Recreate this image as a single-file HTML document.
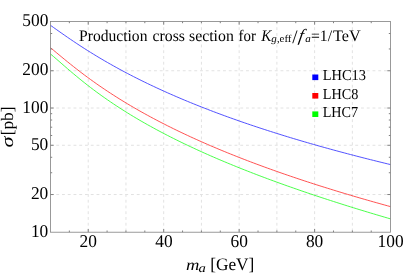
<!DOCTYPE html>
<html><head><meta charset="utf-8"><title>Production cross section</title>
<style>
html,body{margin:0;padding:0;background:#fff;}
svg{display:block;font-family:"Liberation Serif",serif;will-change:transform;}
text{fill:#000;text-rendering:geometricPrecision;}
</style></head>
<body>
<svg width="415" height="274" viewBox="0 0 415 274">
<rect width="415" height="274" fill="#fff"/>
<line x1="88.22" x2="88.22" y1="21.5" y2="232.2" stroke="#e2e2e2" stroke-width="1" stroke-dasharray="2.9,2.85"/>
<line x1="125.95" x2="125.95" y1="21.5" y2="232.2" stroke="#e2e2e2" stroke-width="1" stroke-dasharray="2.9,2.85"/>
<line x1="163.69" x2="163.69" y1="21.5" y2="232.2" stroke="#e2e2e2" stroke-width="1" stroke-dasharray="2.9,2.85"/>
<line x1="201.42" x2="201.42" y1="21.5" y2="232.2" stroke="#e2e2e2" stroke-width="1" stroke-dasharray="2.9,2.85"/>
<line x1="239.15" x2="239.15" y1="21.5" y2="232.2" stroke="#e2e2e2" stroke-width="1" stroke-dasharray="2.9,2.85"/>
<line x1="276.89" x2="276.89" y1="21.5" y2="232.2" stroke="#e2e2e2" stroke-width="1" stroke-dasharray="2.9,2.85"/>
<line x1="314.62" x2="314.62" y1="21.5" y2="232.2" stroke="#e2e2e2" stroke-width="1" stroke-dasharray="2.9,2.85"/>
<line x1="352.36" x2="352.36" y1="21.5" y2="232.2" stroke="#e2e2e2" stroke-width="1" stroke-dasharray="2.9,2.85"/>
<line x1="50.5" x2="390.5" y1="194.54" y2="194.54" stroke="#e2e2e2" stroke-width="1" stroke-dasharray="2.9,2.85"/>
<line x1="50.5" x2="390.5" y1="145.28" y2="145.28" stroke="#e2e2e2" stroke-width="1" stroke-dasharray="2.9,2.85"/>
<line x1="50.5" x2="390.5" y1="108.02" y2="108.02" stroke="#e2e2e2" stroke-width="1" stroke-dasharray="2.9,2.85"/>
<line x1="50.5" x2="390.5" y1="70.76" y2="70.76" stroke="#e2e2e2" stroke-width="1" stroke-dasharray="2.9,2.85"/>
<path d="M50.50,25.34 L53.36,27.36 L56.21,29.39 L59.07,31.40 L61.93,33.41 L64.79,35.40 L67.64,37.38 L70.50,39.33 L73.36,41.26 L76.21,43.17 L79.07,45.05 L81.93,46.91 L84.79,48.75 L87.64,50.56 L90.50,52.35 L93.36,54.11 L96.21,55.85 L99.07,57.57 L101.93,59.26 L104.79,60.94 L107.64,62.59 L110.50,64.21 L113.36,65.82 L116.21,67.40 L119.07,68.97 L121.93,70.51 L124.79,72.04 L127.64,73.54 L130.50,75.03 L133.36,76.50 L136.21,77.95 L139.07,79.38 L141.93,80.80 L144.79,82.20 L147.64,83.58 L150.50,84.95 L153.36,86.30 L156.21,87.64 L159.07,88.96 L161.93,90.26 L164.79,91.56 L167.64,92.83 L170.50,94.10 L173.36,95.35 L176.21,96.58 L179.07,97.81 L181.93,99.02 L184.79,100.22 L187.64,101.41 L190.50,102.58 L193.36,103.74 L196.21,104.90 L199.07,106.04 L201.93,107.17 L204.79,108.28 L207.64,109.39 L210.50,110.49 L213.36,111.58 L216.21,112.66 L219.07,113.72 L221.93,114.78 L224.79,115.83 L227.64,116.87 L230.50,117.90 L233.36,118.92 L236.21,119.93 L239.07,120.93 L241.93,121.93 L244.79,122.91 L247.64,123.89 L250.50,124.86 L253.36,125.82 L256.21,126.78 L259.07,127.72 L261.93,128.66 L264.79,129.59 L267.64,130.52 L270.50,131.43 L273.36,132.34 L276.21,133.25 L279.07,134.14 L281.93,135.03 L284.79,135.91 L287.64,136.79 L290.50,137.65 L293.36,138.52 L296.21,139.37 L299.07,140.22 L301.93,141.07 L304.79,141.90 L307.64,142.73 L310.50,143.56 L313.36,144.38 L316.21,145.19 L319.07,146.00 L321.93,146.80 L324.79,147.60 L327.64,148.39 L330.50,149.18 L333.36,149.96 L336.21,150.73 L339.07,151.51 L341.93,152.27 L344.79,153.03 L347.64,153.79 L350.50,154.54 L353.36,155.28 L356.21,156.02 L359.07,156.76 L361.93,157.49 L364.79,158.22 L367.64,158.94 L370.50,159.66 L373.36,160.37 L376.21,161.08 L379.07,161.79 L381.93,162.49 L384.79,163.19 L387.64,163.88 L390.50,164.57" fill="none" stroke="#4040ff" stroke-width="0.9"/>
<path d="M50.50,47.76 L53.36,50.11 L56.21,52.48 L59.07,54.86 L61.93,57.22 L64.79,59.58 L67.64,61.90 L70.50,64.21 L73.36,66.48 L76.21,68.73 L79.07,70.94 L81.93,73.13 L84.79,75.28 L87.64,77.39 L90.50,79.48 L93.36,81.53 L96.21,83.56 L99.07,85.55 L101.93,87.51 L104.79,89.44 L107.64,91.35 L110.50,93.22 L113.36,95.07 L116.21,96.89 L119.07,98.69 L121.93,100.46 L124.79,102.20 L127.64,103.93 L130.50,105.62 L133.36,107.30 L136.21,108.95 L139.07,110.58 L141.93,112.19 L144.79,113.78 L147.64,115.35 L150.50,116.90 L153.36,118.43 L156.21,119.94 L159.07,121.44 L161.93,122.91 L164.79,124.37 L167.64,125.82 L170.50,127.24 L173.36,128.65 L176.21,130.05 L179.07,131.43 L181.93,132.79 L184.79,134.14 L187.64,135.48 L190.50,136.80 L193.36,138.11 L196.21,139.40 L199.07,140.68 L201.93,141.95 L204.79,143.21 L207.64,144.46 L210.50,145.69 L213.36,146.91 L216.21,148.12 L219.07,149.32 L221.93,150.50 L224.79,151.68 L227.64,152.85 L230.50,154.00 L233.36,155.15 L236.21,156.28 L239.07,157.41 L241.93,158.52 L244.79,159.63 L247.64,160.73 L250.50,161.82 L253.36,162.90 L256.21,163.97 L259.07,165.03 L261.93,166.08 L264.79,167.13 L267.64,168.17 L270.50,169.20 L273.36,170.22 L276.21,171.23 L279.07,172.24 L281.93,173.24 L284.79,174.23 L287.64,175.21 L290.50,176.19 L293.36,177.16 L296.21,178.12 L299.07,179.08 L301.93,180.03 L304.79,180.97 L307.64,181.90 L310.50,182.83 L313.36,183.76 L316.21,184.68 L319.07,185.59 L321.93,186.49 L324.79,187.39 L327.64,188.28 L330.50,189.17 L333.36,190.05 L336.21,190.93 L339.07,191.80 L341.93,192.67 L344.79,193.53 L347.64,194.38 L350.50,195.23 L353.36,196.08 L356.21,196.92 L359.07,197.75 L361.93,198.58 L364.79,199.40 L367.64,200.22 L370.50,201.04 L373.36,201.85 L376.21,202.65 L379.07,203.45 L381.93,204.25 L384.79,205.04 L387.64,205.83 L390.50,206.61" fill="none" stroke="#ff4040" stroke-width="0.9"/>
<path d="M50.50,54.03 L53.36,56.42 L56.21,58.87 L59.07,61.35 L61.93,63.85 L64.79,66.33 L67.64,68.81 L70.50,71.26 L73.36,73.68 L76.21,76.06 L79.07,78.42 L81.93,80.73 L84.79,83.01 L87.64,85.25 L90.50,87.46 L93.36,89.62 L96.21,91.75 L99.07,93.85 L101.93,95.91 L104.79,97.93 L107.64,99.92 L110.50,101.88 L113.36,103.81 L116.21,105.70 L119.07,107.57 L121.93,109.40 L124.79,111.21 L127.64,112.99 L130.50,114.75 L133.36,116.48 L136.21,118.18 L139.07,119.86 L141.93,121.52 L144.79,123.15 L147.64,124.76 L150.50,126.35 L153.36,127.92 L156.21,129.47 L159.07,131.00 L161.93,132.52 L164.79,134.01 L167.64,135.48 L170.50,136.94 L173.36,138.38 L176.21,139.81 L179.07,141.22 L181.93,142.61 L184.79,143.99 L187.64,145.35 L190.50,146.70 L193.36,148.03 L196.21,149.35 L199.07,150.66 L201.93,151.96 L204.79,153.24 L207.64,154.51 L210.50,155.77 L213.36,157.01 L216.21,158.25 L219.07,159.47 L221.93,160.68 L224.79,161.88 L227.64,163.07 L230.50,164.25 L233.36,165.43 L236.21,166.59 L239.07,167.74 L241.93,168.88 L244.79,170.01 L247.64,171.14 L250.50,172.25 L253.36,173.36 L256.21,174.46 L259.07,175.55 L261.93,176.63 L264.79,177.70 L267.64,178.77 L270.50,179.83 L273.36,180.88 L276.21,181.92 L279.07,182.96 L281.93,183.98 L284.79,185.01 L287.64,186.02 L290.50,187.03 L293.36,188.03 L296.21,189.03 L299.07,190.02 L301.93,191.00 L304.79,191.98 L307.64,192.95 L310.50,193.91 L313.36,194.87 L316.21,195.83 L319.07,196.77 L321.93,197.72 L324.79,198.65 L327.64,199.58 L330.50,200.51 L333.36,201.43 L336.21,202.35 L339.07,203.26 L341.93,204.16 L344.79,205.07 L347.64,205.96 L350.50,206.85 L353.36,207.74 L356.21,208.62 L359.07,209.50 L361.93,210.37 L364.79,211.24 L367.64,212.11 L370.50,212.97 L373.36,213.82 L376.21,214.68 L379.07,215.52 L381.93,216.37 L384.79,217.21 L387.64,218.04 L390.50,218.88" fill="none" stroke="#38ff38" stroke-width="0.9"/>
<rect x="50.5" y="21.5" width="340.0" height="210.7" fill="none" stroke="#808080" stroke-width="0.8"/>
<line x1="69.35" x2="69.35" y1="232.2" y2="230.5" stroke="#808080" stroke-width="1"/>
<line x1="69.35" x2="69.35" y1="21.5" y2="23.2" stroke="#808080" stroke-width="1"/>
<line x1="88.22" x2="88.22" y1="232.2" y2="229.0" stroke="#808080" stroke-width="1"/>
<line x1="88.22" x2="88.22" y1="21.5" y2="24.7" stroke="#808080" stroke-width="1"/>
<line x1="107.08" x2="107.08" y1="232.2" y2="230.5" stroke="#808080" stroke-width="1"/>
<line x1="107.08" x2="107.08" y1="21.5" y2="23.2" stroke="#808080" stroke-width="1"/>
<line x1="125.95" x2="125.95" y1="232.2" y2="230.5" stroke="#808080" stroke-width="1"/>
<line x1="125.95" x2="125.95" y1="21.5" y2="23.2" stroke="#808080" stroke-width="1"/>
<line x1="144.82" x2="144.82" y1="232.2" y2="230.5" stroke="#808080" stroke-width="1"/>
<line x1="144.82" x2="144.82" y1="21.5" y2="23.2" stroke="#808080" stroke-width="1"/>
<line x1="163.69" x2="163.69" y1="232.2" y2="229.0" stroke="#808080" stroke-width="1"/>
<line x1="163.69" x2="163.69" y1="21.5" y2="24.7" stroke="#808080" stroke-width="1"/>
<line x1="182.55" x2="182.55" y1="232.2" y2="230.5" stroke="#808080" stroke-width="1"/>
<line x1="182.55" x2="182.55" y1="21.5" y2="23.2" stroke="#808080" stroke-width="1"/>
<line x1="201.42" x2="201.42" y1="232.2" y2="230.5" stroke="#808080" stroke-width="1"/>
<line x1="201.42" x2="201.42" y1="21.5" y2="23.2" stroke="#808080" stroke-width="1"/>
<line x1="220.29" x2="220.29" y1="232.2" y2="230.5" stroke="#808080" stroke-width="1"/>
<line x1="220.29" x2="220.29" y1="21.5" y2="23.2" stroke="#808080" stroke-width="1"/>
<line x1="239.15" x2="239.15" y1="232.2" y2="229.0" stroke="#808080" stroke-width="1"/>
<line x1="239.15" x2="239.15" y1="21.5" y2="24.7" stroke="#808080" stroke-width="1"/>
<line x1="258.02" x2="258.02" y1="232.2" y2="230.5" stroke="#808080" stroke-width="1"/>
<line x1="258.02" x2="258.02" y1="21.5" y2="23.2" stroke="#808080" stroke-width="1"/>
<line x1="276.89" x2="276.89" y1="232.2" y2="230.5" stroke="#808080" stroke-width="1"/>
<line x1="276.89" x2="276.89" y1="21.5" y2="23.2" stroke="#808080" stroke-width="1"/>
<line x1="295.76" x2="295.76" y1="232.2" y2="230.5" stroke="#808080" stroke-width="1"/>
<line x1="295.76" x2="295.76" y1="21.5" y2="23.2" stroke="#808080" stroke-width="1"/>
<line x1="314.62" x2="314.62" y1="232.2" y2="229.0" stroke="#808080" stroke-width="1"/>
<line x1="314.62" x2="314.62" y1="21.5" y2="24.7" stroke="#808080" stroke-width="1"/>
<line x1="333.49" x2="333.49" y1="232.2" y2="230.5" stroke="#808080" stroke-width="1"/>
<line x1="333.49" x2="333.49" y1="21.5" y2="23.2" stroke="#808080" stroke-width="1"/>
<line x1="352.36" x2="352.36" y1="232.2" y2="230.5" stroke="#808080" stroke-width="1"/>
<line x1="352.36" x2="352.36" y1="21.5" y2="23.2" stroke="#808080" stroke-width="1"/>
<line x1="371.23" x2="371.23" y1="232.2" y2="230.5" stroke="#808080" stroke-width="1"/>
<line x1="371.23" x2="371.23" y1="21.5" y2="23.2" stroke="#808080" stroke-width="1"/>
<line x1="50.5" x2="53.7" y1="194.54" y2="194.54" stroke="#808080" stroke-width="1"/>
<line x1="390.5" x2="387.3" y1="194.54" y2="194.54" stroke="#808080" stroke-width="1"/>
<line x1="50.5" x2="52.2" y1="172.74" y2="172.74" stroke="#808080" stroke-width="1"/>
<line x1="390.5" x2="388.8" y1="172.74" y2="172.74" stroke="#808080" stroke-width="1"/>
<line x1="50.5" x2="52.2" y1="157.28" y2="157.28" stroke="#808080" stroke-width="1"/>
<line x1="390.5" x2="388.8" y1="157.28" y2="157.28" stroke="#808080" stroke-width="1"/>
<line x1="50.5" x2="53.7" y1="145.28" y2="145.28" stroke="#808080" stroke-width="1"/>
<line x1="390.5" x2="387.3" y1="145.28" y2="145.28" stroke="#808080" stroke-width="1"/>
<line x1="50.5" x2="52.2" y1="135.48" y2="135.48" stroke="#808080" stroke-width="1"/>
<line x1="390.5" x2="388.8" y1="135.48" y2="135.48" stroke="#808080" stroke-width="1"/>
<line x1="50.5" x2="52.2" y1="127.19" y2="127.19" stroke="#808080" stroke-width="1"/>
<line x1="390.5" x2="388.8" y1="127.19" y2="127.19" stroke="#808080" stroke-width="1"/>
<line x1="50.5" x2="52.2" y1="120.01" y2="120.01" stroke="#808080" stroke-width="1"/>
<line x1="390.5" x2="388.8" y1="120.01" y2="120.01" stroke="#808080" stroke-width="1"/>
<line x1="50.5" x2="52.2" y1="113.68" y2="113.68" stroke="#808080" stroke-width="1"/>
<line x1="390.5" x2="388.8" y1="113.68" y2="113.68" stroke="#808080" stroke-width="1"/>
<line x1="50.5" x2="53.7" y1="108.02" y2="108.02" stroke="#808080" stroke-width="1"/>
<line x1="390.5" x2="387.3" y1="108.02" y2="108.02" stroke="#808080" stroke-width="1"/>
<line x1="50.5" x2="53.7" y1="70.76" y2="70.76" stroke="#808080" stroke-width="1"/>
<line x1="390.5" x2="387.3" y1="70.76" y2="70.76" stroke="#808080" stroke-width="1"/>
<line x1="50.5" x2="52.2" y1="48.96" y2="48.96" stroke="#808080" stroke-width="1"/>
<line x1="390.5" x2="388.8" y1="48.96" y2="48.96" stroke="#808080" stroke-width="1"/>
<line x1="50.5" x2="52.2" y1="33.50" y2="33.50" stroke="#808080" stroke-width="1"/>
<line x1="390.5" x2="388.8" y1="33.50" y2="33.50" stroke="#808080" stroke-width="1"/>
<text x="79.53" y="247.30" font-size="18" textLength="17.37" lengthAdjust="spacingAndGlyphs">20</text>
<text x="155.24" y="247.30" font-size="18" textLength="17.37" lengthAdjust="spacingAndGlyphs">40</text>
<text x="230.47" y="247.30" font-size="18" textLength="17.37" lengthAdjust="spacingAndGlyphs">60</text>
<text x="305.94" y="247.30" font-size="18" textLength="17.37" lengthAdjust="spacingAndGlyphs">80</text>
<text x="377.61" y="247.30" font-size="18" textLength="26.05" lengthAdjust="spacingAndGlyphs">100</text>
<text x="30.95" y="236.50" font-size="18" textLength="17.37" lengthAdjust="spacingAndGlyphs">10</text>
<text x="30.95" y="199.24" font-size="18" textLength="17.37" lengthAdjust="spacingAndGlyphs">20</text>
<text x="30.95" y="149.98" font-size="18" textLength="17.37" lengthAdjust="spacingAndGlyphs">50</text>
<text x="22.27" y="112.72" font-size="18" textLength="26.05" lengthAdjust="spacingAndGlyphs">100</text>
<text x="22.27" y="75.46" font-size="18" textLength="26.05" lengthAdjust="spacingAndGlyphs">200</text>
<text x="22.27" y="26.20" font-size="18" textLength="26.05" lengthAdjust="spacingAndGlyphs">500</text>
<text x="79.02" y="40.60" font-size="16.1" textLength="68.43" lengthAdjust="spacingAndGlyphs">Production</text>
<text x="152.51" y="40.60" font-size="16.1" textLength="32.47" lengthAdjust="spacingAndGlyphs">cross</text>
<text x="189.06" y="40.60" font-size="16.1" textLength="44.78" lengthAdjust="spacingAndGlyphs">section</text>
<text x="238.54" y="40.60" font-size="16.1" textLength="17.38" lengthAdjust="spacingAndGlyphs">for</text>
<text x="261.34" y="40.60" font-size="16.1" font-style="italic" textLength="10.14" lengthAdjust="spacingAndGlyphs">K</text>
<text x="271.30" y="42.45" font-size="10.4" font-style="italic" textLength="5.47" lengthAdjust="spacingAndGlyphs">g</text>
<text x="276.90" y="42.45" font-size="10.4">,</text>
<text x="279.57" y="42.45" font-size="10.4" textLength="11.94" lengthAdjust="spacingAndGlyphs">eff</text>
<text x="292.17" y="42.60" font-size="19">/</text>
<g transform="translate(298.1,40.80) skewX(-10)"><text x="0" y="0" font-size="17.3" font-style="italic">f</text></g>
<text x="305.33" y="42.45" font-size="10.4" font-style="italic" textLength="5.55" lengthAdjust="spacingAndGlyphs">a</text>
<text x="310.97" y="40.60" font-size="16.1" textLength="21.03" lengthAdjust="spacingAndGlyphs">=1/</text>
<text x="333.05" y="40.60" font-size="16.1" textLength="27.68" lengthAdjust="spacingAndGlyphs">TeV</text>
<text x="322.73" y="80.10" font-size="15.2" textLength="43.24" lengthAdjust="spacingAndGlyphs">LHC13</text>
<text x="322.73" y="98.50" font-size="15.2" textLength="35.54" lengthAdjust="spacingAndGlyphs">LHC8</text>
<text x="322.74" y="117.10" font-size="15.2" textLength="35.33" lengthAdjust="spacingAndGlyphs">LHC7</text>
<text x="186.12" y="269.60" font-size="16.0" font-style="italic" textLength="13.41" lengthAdjust="spacingAndGlyphs">m</text>
<text x="198.60" y="272.00" font-size="12.2" font-style="italic" textLength="7.32" lengthAdjust="spacingAndGlyphs">a</text>
<text x="210.16" y="269.70" font-size="17.5" textLength="44.22" lengthAdjust="spacingAndGlyphs">[GeV]</text>
<rect x="312.3" y="74.5" width="6.0" height="5.6" fill="#0000ff"/>
<rect x="312.3" y="93.0" width="6.0" height="5.6" fill="#ff0000"/>
<rect x="312.3" y="111.4" width="6.0" height="5.6" fill="#00ff00"/>
<g transform="translate(12.6,147.43) rotate(-90)"><text x="0.00" y="0.00" font-size="17.5" font-style="italic" textLength="10.95" lengthAdjust="spacingAndGlyphs">σ</text></g>
<g transform="translate(12.6,135.33) rotate(-90)"><text x="0.00" y="0.00" font-size="17.5" textLength="28.72" lengthAdjust="spacingAndGlyphs">[pb]</text></g>
</svg>
</body></html>
